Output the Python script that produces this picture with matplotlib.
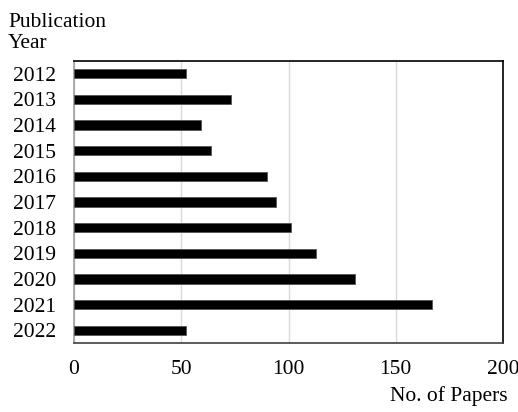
import matplotlib
matplotlib.use("Agg")
import matplotlib.pyplot as plt

years = ["2012", "2013", "2014", "2015", "2016", "2017", "2018", "2019", "2020", "2021", "2022"]
papers = [52, 73, 59, 64, 90, 94, 101, 113, 131, 167, 52]

plt.rcParams['font.family'] = ['Liberation Serif', 'DejaVu Serif']

fig = plt.figure(figsize=(5.18, 4.12), dpi=100)
ax = fig.add_axes([0.1429, 0.1675, 0.971 - 0.1429, 0.852 - 0.1675])

FS = 15.5
pos = list(range(len(years)))
ax.barh(pos, papers, height=0.36, color='black', edgecolor='#555555', linewidth=0.6, zorder=3)
ax.set_ylim(len(years) - 0.5, -0.5)
ax.set_yticks(pos)
ax.set_yticklabels(years, fontsize=FS)
ax.set_xlim(0, 200)
ax.set_xticks([0, 50, 100, 150, 200])
ax.tick_params(axis='x', labelsize=FS, length=0, pad=12.5)
ax.tick_params(axis='y', length=0, pad=13)
ax.grid(axis='x', color='#d9d9d9', linewidth=1, zorder=0)
for s in ['top', 'right']:
    ax.spines[s].set_color('black')
    ax.spines[s].set_linewidth(1.2)
ax.spines['left'].set_color('#a0a0a0')
ax.spines['left'].set_linewidth(1.2)
ax.spines['bottom'].set_color('#404040')
ax.spines['bottom'].set_linewidth(1.2)

fig.text(8 / 518, 1 - 33 / 412, "Publication\nYear", fontsize=FS, ha='left', va='center', linespacing=1.2)
fig.text(508 / 518, 1 - 396 / 412, "No. of Papers", fontsize=FS, ha='right', va='center')

fig.savefig("out.png", dpi=100)
